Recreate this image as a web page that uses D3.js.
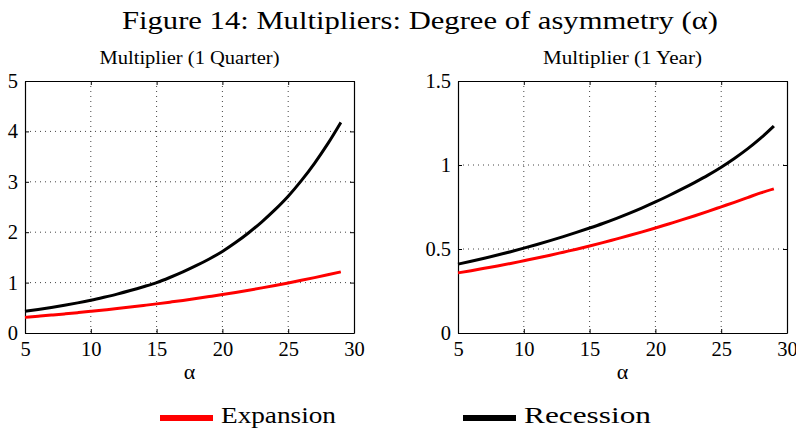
<!DOCTYPE html>
<html>
<head>
<meta charset="utf-8">
<script src="https://cdn.jsdelivr.net/npm/d3@7"></script>
<style>
  body { margin: 0; background: #fff; }
  .axis path { stroke: #000; stroke-width: 1.2; }
  .axis line { stroke: #000; }
  .grid line { stroke: #444; stroke-width: 1; stroke-dasharray: 1,4; }
</style>
</head>
<body>
<div id="chart"></div>
<script>
var serif = "'Liberation Serif', 'Times New Roman', Times, serif";

// alpha values (x axis)
var alpha = d3.range(5, 30);

// Multiplier (1 Quarter)
var quarterExpansion = [0.310, 0.332, 0.355, 0.379, 0.404, 0.430, 0.457, 0.485, 0.515, 0.546, 0.578, 0.612, 0.647,
                        0.684, 0.723, 0.763, 0.805, 0.849, 0.895, 0.943, 0.993, 1.045, 1.099, 1.155, 1.213];
var quarterRecession = [0.430, 0.467, 0.507, 0.551, 0.598, 0.650, 0.709, 0.772, 0.842, 0.918, 1.000, 1.101, 1.212,
                        1.335, 1.469, 1.618, 1.794, 1.990, 2.207, 2.447, 2.714, 3.023, 3.368, 3.752, 4.179];

// Multiplier (1 Year)
var yearExpansion = [0.358, 0.371, 0.385, 0.399, 0.414, 0.430, 0.446, 0.463, 0.481, 0.499, 0.518, 0.538, 0.559,
                     0.580, 0.602, 0.625, 0.649, 0.673, 0.698, 0.724, 0.751, 0.778, 0.806, 0.834, 0.858];
var yearRecession = [0.410, 0.427, 0.445, 0.464, 0.484, 0.505, 0.527, 0.550, 0.574, 0.599, 0.625, 0.652, 0.681,
                     0.712, 0.745, 0.780, 0.817, 0.856, 0.897, 0.940, 0.987, 1.039, 1.096, 1.160, 1.232];

var xTicks = [5, 10, 15, 20, 25, 30];
var quarterYTicks = [0, 1, 2, 3, 4, 5];
var yearYTicks = [0, 0.5, 1, 1.5];

var svgWidth = 796;
var svgHeight = 428;

var svg = d3.select("#chart")
    .append("svg")
    .attr("width", svgWidth)
    .attr("height", svgHeight)
    .style("font-family", serif);

svg.append("text")
    .attr("x", 420)
    .attr("y", 29)
    .attr("text-anchor", "middle")
    .style("font-family", serif)
    .style("font-size", "25px")
    .attr("textLength", 596)
    .attr("lengthAdjust", "spacingAndGlyphs")
    .text("Figure 14: Multipliers: Degree of asymmetry (α)");

function drawPanel(left, title, titleWidth, yMax, yTicks, yFormat, expansion, recession) {
    var width = 329;
    var height = 252;
    var top = 81;

    var g = svg.append("g")
        .attr("transform", `translate(${left}, ${top})`);

    var x = d3.scaleLinear().domain([5, 30]).range([0, width]);
    var y = d3.scaleLinear().domain([0, yMax]).range([height, 0]);

    // grid
    var grid = g.append("g").classed("grid", true);
    grid.selectAll(".gx")
        .data(xTicks.slice(1, -1))
        .enter()
        .append("line")
        .attr("x1", d => x(d)).attr("x2", d => x(d))
        .attr("y1", 0).attr("y2", height);
    grid.selectAll(".gy")
        .data(yTicks.slice(1, -1))
        .enter()
        .append("line")
        .attr("y1", d => y(d)).attr("y2", d => y(d))
        .attr("x1", 0).attr("x2", width);

    g.append("g")
        .classed("axis", true)
        .attr("transform", `translate(0, ${height})`)
        .call(d3.axisBottom(x).tickValues(xTicks).tickSize(-4).tickPadding(8).tickSizeOuter(0));
    g.append("g")
        .classed("axis", true)
        .call(d3.axisLeft(y).tickValues(yTicks).tickFormat(yFormat).tickSize(-4).tickPadding(7).tickSizeOuter(0));
    g.append("g")
        .classed("axis", true)
        .call(d3.axisTop(x).tickValues(xTicks).tickSize(-4).tickFormat("").tickSizeOuter(0));
    g.append("g")
        .classed("axis", true)
        .attr("transform", `translate(${width}, 0)`)
        .call(d3.axisRight(y).tickValues(yTicks).tickSize(-4).tickFormat("").tickSizeOuter(0));

    g.selectAll(".axis").attr("font-family", null).attr("font-size", null);
    g.selectAll(".axis text")
        .style("font-family", serif)
        .style("font-size", "20.5px")
        .attr("fill", "#000");

    var line = d3.line()
        .x((d, i) => x(alpha[i]))
        .y(d => y(d))
        .curve(d3.curveMonotoneX);

    g.append("path")
        .datum(expansion)
        .attr("fill", "none")
        .attr("stroke", "#ff0000")
        .attr("stroke-width", 3)
        .attr("d", line);
    g.append("path")
        .datum(recession)
        .attr("fill", "none")
        .attr("stroke", "#000")
        .attr("stroke-width", 3)
        .attr("d", line);

    g.append("text")
        .attr("x", width / 2)
        .attr("y", -17)
        .attr("text-anchor", "middle")
        .style("font-family", serif)
        .style("font-size", "18px")
        .attr("textLength", titleWidth)
        .attr("lengthAdjust", "spacingAndGlyphs")
        .text(title);

    g.append("text")
        .attr("x", width / 2)
        .attr("y", height + 46)
        .attr("text-anchor", "middle")
        .style("font-family", serif)
        .style("font-size", "22px")
        .text("α");
}

drawPanel(25, "Multiplier (1 Quarter)", 180, 5, quarterYTicks, d3.format("d"), quarterExpansion, quarterRecession);
drawPanel(458, "Multiplier (1 Year)", 159, 1.5, yearYTicks, d => d3.format("")(d), yearExpansion, yearRecession);

// legend
var legend = [
    { name: "Expansion", color: "#ff0000", x: 160, w: 115 },
    { name: "Recession", color: "#000", x: 463, w: 127 }
];
var legendGroup = svg.selectAll(".legend")
    .data(legend)
    .enter()
    .append("g")
    .attr("transform", d => `translate(${d.x}, 418)`);
legendGroup.append("line")
    .attr("x1", 0).attr("x2", 53)
    .attr("y1", 0).attr("y2", 0)
    .attr("stroke", d => d.color)
    .attr("stroke-width", 6);
legendGroup.append("text")
    .attr("x", 61)
    .attr("y", 5)
    .style("font-family", serif)
    .style("font-size", "23px")
    .attr("textLength", d => d.w)
    .attr("lengthAdjust", "spacingAndGlyphs")
    .text(d => d.name);
</script>
</body>
</html>
